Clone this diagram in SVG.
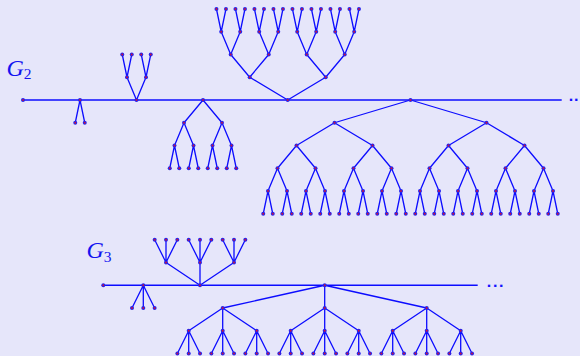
<svg xmlns="http://www.w3.org/2000/svg" xmlns:xlink="http://www.w3.org/1999/xlink" width="580" height="356" viewBox="0 0 580 356">
<style>
.e{fill:none;stroke:#0c0cff;stroke-width:1.3;stroke-linejoin:round}
.lbl{font-family:"Liberation Serif",serif;font-style:italic;font-size:24px;fill:#1414f0}
.sub{font-style:normal;font-size:15.5px}
.dots{font-family:"DejaVu Sans",sans-serif;font-size:13px;font-weight:bold;fill:#1414ff}
</style>
<defs>
<g id="v"><circle r="2" fill="#2424ee"/><circle r="0.9" fill="#d0103a"/></g>
</defs>
<rect width="580" height="356" fill="#e6e6fa"/>
<g id="labels">
<text class="lbl" x="6.5" y="75.5">G<tspan class="sub" dy="3">2</tspan></text>
<text class="lbl" x="86.5" y="258">G<tspan class="sub" dy="3.5">3</tspan></text>
<text class="dots" x="568.6" y="104.3" letter-spacing="0.2">··</text>
<text class="dots" x="486.6" y="289.6" letter-spacing="1.2">···</text>
</g>
<g id="connectors">
<path class="e" d="M23 100H561.7"/>
<path class="e" d="M75.25 122.75L80 100L84.75 122.75"/>
<path class="e" d="M127 77.25L136.5 100L146 77.25M122.25 54.5L127 77.25L131.75 54.5M141.25 54.5L146 77.25L150.75 54.5"/>
<path class="e" d="M184 122.75L203 100L222 122.75M174.5 145.5L184 122.75L193.5 145.5M212.5 145.5L222 122.75L231.5 145.5M169.75 168.25L174.5 145.5L179.25 168.25M188.75 168.25L193.5 145.5L198.25 168.25M207.75 168.25L212.5 145.5L217.25 168.25M226.75 168.25L231.5 145.5L236.25 168.25"/>
<path class="e" d="M249.7 77.25L287.7 100L325.7 77.25M230.7 54.5L249.7 77.25L268.7 54.5M306.7 54.5L325.7 77.25L344.7 54.5M221.2 31.75L230.7 54.5L240.2 31.75M259.2 31.75L268.7 54.5L278.2 31.75M297.2 31.75L306.7 54.5L316.2 31.75M335.2 31.75L344.7 54.5L354.2 31.75M216.45 9L221.2 31.75L225.95 9M235.45 9L240.2 31.75L244.95 9M254.45 9L259.2 31.75L263.95 9M273.45 9L278.2 31.75L282.95 9M292.45 9L297.2 31.75L301.95 9M311.45 9L316.2 31.75L320.95 9M330.45 9L335.2 31.75L339.95 9M349.45 9L354.2 31.75L358.95 9"/>
<path class="e" d="M334.5 122.75L410.5 100L486.5 122.75M296.5 145.5L334.5 122.75L372.5 145.5M448.5 145.5L486.5 122.75L524.5 145.5M277.5 168.25L296.5 145.5L315.5 168.25M353.5 168.25L372.5 145.5L391.5 168.25M429.5 168.25L448.5 145.5L467.5 168.25M505.5 168.25L524.5 145.5L543.5 168.25M268 191L277.5 168.25L287 191M306 191L315.5 168.25L325 191M344 191L353.5 168.25L363 191M382 191L391.5 168.25L401 191M420 191L429.5 168.25L439 191M458 191L467.5 168.25L477 191M496 191L505.5 168.25L515 191M534 191L543.5 168.25L553 191"/>
<path class="e" d="M263.25 213.75L268 191L272.75 213.75M282.25 213.75L287 191L291.75 213.75M301.25 213.75L306 191L310.75 213.75M320.25 213.75L325 191L329.75 213.75M339.25 213.75L344 191L348.75 213.75M358.25 213.75L363 191L367.75 213.75M377.25 213.75L382 191L386.75 213.75M396.25 213.75L401 191L405.75 213.75M415.25 213.75L420 191L424.75 213.75M434.25 213.75L439 191L443.75 213.75M453.25 213.75L458 191L462.75 213.75M472.25 213.75L477 191L481.75 213.75M491.25 213.75L496 191L500.75 213.75M510.25 213.75L515 191L519.75 213.75M529.25 213.75L534 191L538.75 213.75M548.25 213.75L553 191L557.75 213.75"/>
<path class="e" d="M103.3 285.25H477.7"/>
<path class="e" d="M132 308L143.3 285.25L154.6 308M143.3 285.25V308"/>
<path class="e" d="M166 262.5L200 285.25L234 262.5M200 285.25V262.5M154.67 239.75L166 262.5L177.33 239.75M166 262.5V239.75M188.67 239.75L200 262.5L211.33 239.75M200 262.5V239.75M222.67 239.75L234 262.5L245.33 239.75M234 262.5V239.75"/>
<path class="e" d="M222.7 308L324.7 285.25L426.7 308M324.7 285.25V308M188.7 330.75L222.7 308L256.7 330.75M222.7 308V330.75M290.7 330.75L324.7 308L358.7 330.75M324.7 308V330.75M392.7 330.75L426.7 308L460.7 330.75M426.7 308V330.75"/>
<path class="e" d="M177.37 353.5L188.7 330.75L200.03 353.5M188.7 330.75V353.5M211.37 353.5L222.7 330.75L234.03 353.5M222.7 330.75V353.5M245.37 353.5L256.7 330.75L268.03 353.5M256.7 330.75V353.5M279.37 353.5L290.7 330.75L302.03 353.5M290.7 330.75V353.5M313.37 353.5L324.7 330.75L336.03 353.5M324.7 330.75V353.5M347.37 353.5L358.7 330.75L370.03 353.5M358.7 330.75V353.5M381.37 353.5L392.7 330.75L404.03 353.5M392.7 330.75V353.5M415.37 353.5L426.7 330.75L438.03 353.5M426.7 330.75V353.5M449.37 353.5L460.7 330.75L472.03 353.5M460.7 330.75V353.5"/>
</g>
<g id="G2-spine">
<use href="#v" x="23" y="100"/>
</g>
<g id="G2-tree1">
<use href="#v" x="80" y="100"/><use href="#v" x="75.25" y="122.75"/><use href="#v" x="84.75" y="122.75"/>
</g>
<g id="G2-tree2">
<use href="#v" x="136.5" y="100"/><use href="#v" x="127" y="77.25"/><use href="#v" x="146" y="77.25"/>
<use href="#v" x="122.25" y="54.5"/><use href="#v" x="131.75" y="54.5"/><use href="#v" x="141.25" y="54.5"/><use href="#v" x="150.75" y="54.5"/>
</g>
<g id="G2-tree3">
<use href="#v" x="203" y="100"/><use href="#v" x="184" y="122.75"/><use href="#v" x="222" y="122.75"/>
<use href="#v" x="174.5" y="145.5"/><use href="#v" x="193.5" y="145.5"/><use href="#v" x="212.5" y="145.5"/><use href="#v" x="231.5" y="145.5"/>
<use href="#v" x="169.75" y="168.25"/><use href="#v" x="179.25" y="168.25"/><use href="#v" x="188.75" y="168.25"/><use href="#v" x="198.25" y="168.25"/><use href="#v" x="207.75" y="168.25"/><use href="#v" x="217.25" y="168.25"/><use href="#v" x="226.75" y="168.25"/><use href="#v" x="236.25" y="168.25"/>
</g>
<g id="G2-tree4">
<use href="#v" x="287.7" y="100"/><use href="#v" x="249.7" y="77.25"/><use href="#v" x="325.7" y="77.25"/>
<use href="#v" x="230.7" y="54.5"/><use href="#v" x="268.7" y="54.5"/><use href="#v" x="306.7" y="54.5"/><use href="#v" x="344.7" y="54.5"/>
<use href="#v" x="221.2" y="31.75"/><use href="#v" x="240.2" y="31.75"/><use href="#v" x="259.2" y="31.75"/><use href="#v" x="278.2" y="31.75"/><use href="#v" x="297.2" y="31.75"/><use href="#v" x="316.2" y="31.75"/><use href="#v" x="335.2" y="31.75"/><use href="#v" x="354.2" y="31.75"/>
<use href="#v" x="216.45" y="9"/><use href="#v" x="225.95" y="9"/><use href="#v" x="235.45" y="9"/><use href="#v" x="244.95" y="9"/><use href="#v" x="254.45" y="9"/><use href="#v" x="263.95" y="9"/><use href="#v" x="273.45" y="9"/><use href="#v" x="282.95" y="9"/><use href="#v" x="292.45" y="9"/><use href="#v" x="301.95" y="9"/><use href="#v" x="311.45" y="9"/><use href="#v" x="320.95" y="9"/><use href="#v" x="330.45" y="9"/><use href="#v" x="339.95" y="9"/><use href="#v" x="349.45" y="9"/><use href="#v" x="358.95" y="9"/>
</g>
<g id="G2-tree5">
<use href="#v" x="410.5" y="100"/><use href="#v" x="334.5" y="122.75"/><use href="#v" x="486.5" y="122.75"/>
<use href="#v" x="296.5" y="145.5"/><use href="#v" x="372.5" y="145.5"/><use href="#v" x="448.5" y="145.5"/><use href="#v" x="524.5" y="145.5"/>
<use href="#v" x="277.5" y="168.25"/><use href="#v" x="315.5" y="168.25"/><use href="#v" x="353.5" y="168.25"/><use href="#v" x="391.5" y="168.25"/><use href="#v" x="429.5" y="168.25"/><use href="#v" x="467.5" y="168.25"/><use href="#v" x="505.5" y="168.25"/><use href="#v" x="543.5" y="168.25"/>
<use href="#v" x="268" y="191"/><use href="#v" x="287" y="191"/><use href="#v" x="306" y="191"/><use href="#v" x="325" y="191"/><use href="#v" x="344" y="191"/><use href="#v" x="363" y="191"/><use href="#v" x="382" y="191"/><use href="#v" x="401" y="191"/><use href="#v" x="420" y="191"/><use href="#v" x="439" y="191"/><use href="#v" x="458" y="191"/><use href="#v" x="477" y="191"/><use href="#v" x="496" y="191"/><use href="#v" x="515" y="191"/><use href="#v" x="534" y="191"/><use href="#v" x="553" y="191"/>
<use href="#v" x="263.25" y="213.75"/><use href="#v" x="272.75" y="213.75"/><use href="#v" x="282.25" y="213.75"/><use href="#v" x="291.75" y="213.75"/><use href="#v" x="301.25" y="213.75"/><use href="#v" x="310.75" y="213.75"/><use href="#v" x="320.25" y="213.75"/><use href="#v" x="329.75" y="213.75"/><use href="#v" x="339.25" y="213.75"/><use href="#v" x="348.75" y="213.75"/><use href="#v" x="358.25" y="213.75"/><use href="#v" x="367.75" y="213.75"/><use href="#v" x="377.25" y="213.75"/><use href="#v" x="386.75" y="213.75"/><use href="#v" x="396.25" y="213.75"/><use href="#v" x="405.75" y="213.75"/><use href="#v" x="415.25" y="213.75"/><use href="#v" x="424.75" y="213.75"/><use href="#v" x="434.25" y="213.75"/><use href="#v" x="443.75" y="213.75"/><use href="#v" x="453.25" y="213.75"/><use href="#v" x="462.75" y="213.75"/><use href="#v" x="472.25" y="213.75"/><use href="#v" x="481.75" y="213.75"/><use href="#v" x="491.25" y="213.75"/><use href="#v" x="500.75" y="213.75"/><use href="#v" x="510.25" y="213.75"/><use href="#v" x="519.75" y="213.75"/><use href="#v" x="529.25" y="213.75"/><use href="#v" x="538.75" y="213.75"/><use href="#v" x="548.25" y="213.75"/><use href="#v" x="557.75" y="213.75"/>
</g>
<g id="G3-spine">
<use href="#v" x="103.3" y="285.25"/>
</g>
<g id="G3-tree1">
<use href="#v" x="143.3" y="285.25"/><use href="#v" x="132" y="308"/><use href="#v" x="143.3" y="308"/><use href="#v" x="154.6" y="308"/>
</g>
<g id="G3-tree2">
<use href="#v" x="200" y="285.25"/><use href="#v" x="166" y="262.5"/><use href="#v" x="200" y="262.5"/><use href="#v" x="234" y="262.5"/>
<use href="#v" x="154.67" y="239.75"/><use href="#v" x="166" y="239.75"/><use href="#v" x="177.33" y="239.75"/><use href="#v" x="188.67" y="239.75"/><use href="#v" x="200" y="239.75"/><use href="#v" x="211.33" y="239.75"/><use href="#v" x="222.67" y="239.75"/><use href="#v" x="234" y="239.75"/><use href="#v" x="245.33" y="239.75"/>
</g>
<g id="G3-tree3">
<use href="#v" x="324.7" y="285.25"/><use href="#v" x="222.7" y="308"/><use href="#v" x="324.7" y="308"/><use href="#v" x="426.7" y="308"/>
<use href="#v" x="188.7" y="330.75"/><use href="#v" x="222.7" y="330.75"/><use href="#v" x="256.7" y="330.75"/><use href="#v" x="290.7" y="330.75"/><use href="#v" x="324.7" y="330.75"/><use href="#v" x="358.7" y="330.75"/><use href="#v" x="392.7" y="330.75"/><use href="#v" x="426.7" y="330.75"/><use href="#v" x="460.7" y="330.75"/>
<use href="#v" x="177.37" y="353.5"/><use href="#v" x="188.7" y="353.5"/><use href="#v" x="200.03" y="353.5"/><use href="#v" x="211.37" y="353.5"/><use href="#v" x="222.7" y="353.5"/><use href="#v" x="234.03" y="353.5"/><use href="#v" x="245.37" y="353.5"/><use href="#v" x="256.7" y="353.5"/><use href="#v" x="268.03" y="353.5"/><use href="#v" x="279.37" y="353.5"/><use href="#v" x="290.7" y="353.5"/><use href="#v" x="302.03" y="353.5"/><use href="#v" x="313.37" y="353.5"/><use href="#v" x="324.7" y="353.5"/><use href="#v" x="336.03" y="353.5"/><use href="#v" x="347.37" y="353.5"/><use href="#v" x="358.7" y="353.5"/><use href="#v" x="370.03" y="353.5"/><use href="#v" x="381.37" y="353.5"/><use href="#v" x="392.7" y="353.5"/><use href="#v" x="404.03" y="353.5"/><use href="#v" x="415.37" y="353.5"/><use href="#v" x="426.7" y="353.5"/><use href="#v" x="438.03" y="353.5"/><use href="#v" x="449.37" y="353.5"/><use href="#v" x="460.7" y="353.5"/><use href="#v" x="472.03" y="353.5"/>
</g>
</svg>
